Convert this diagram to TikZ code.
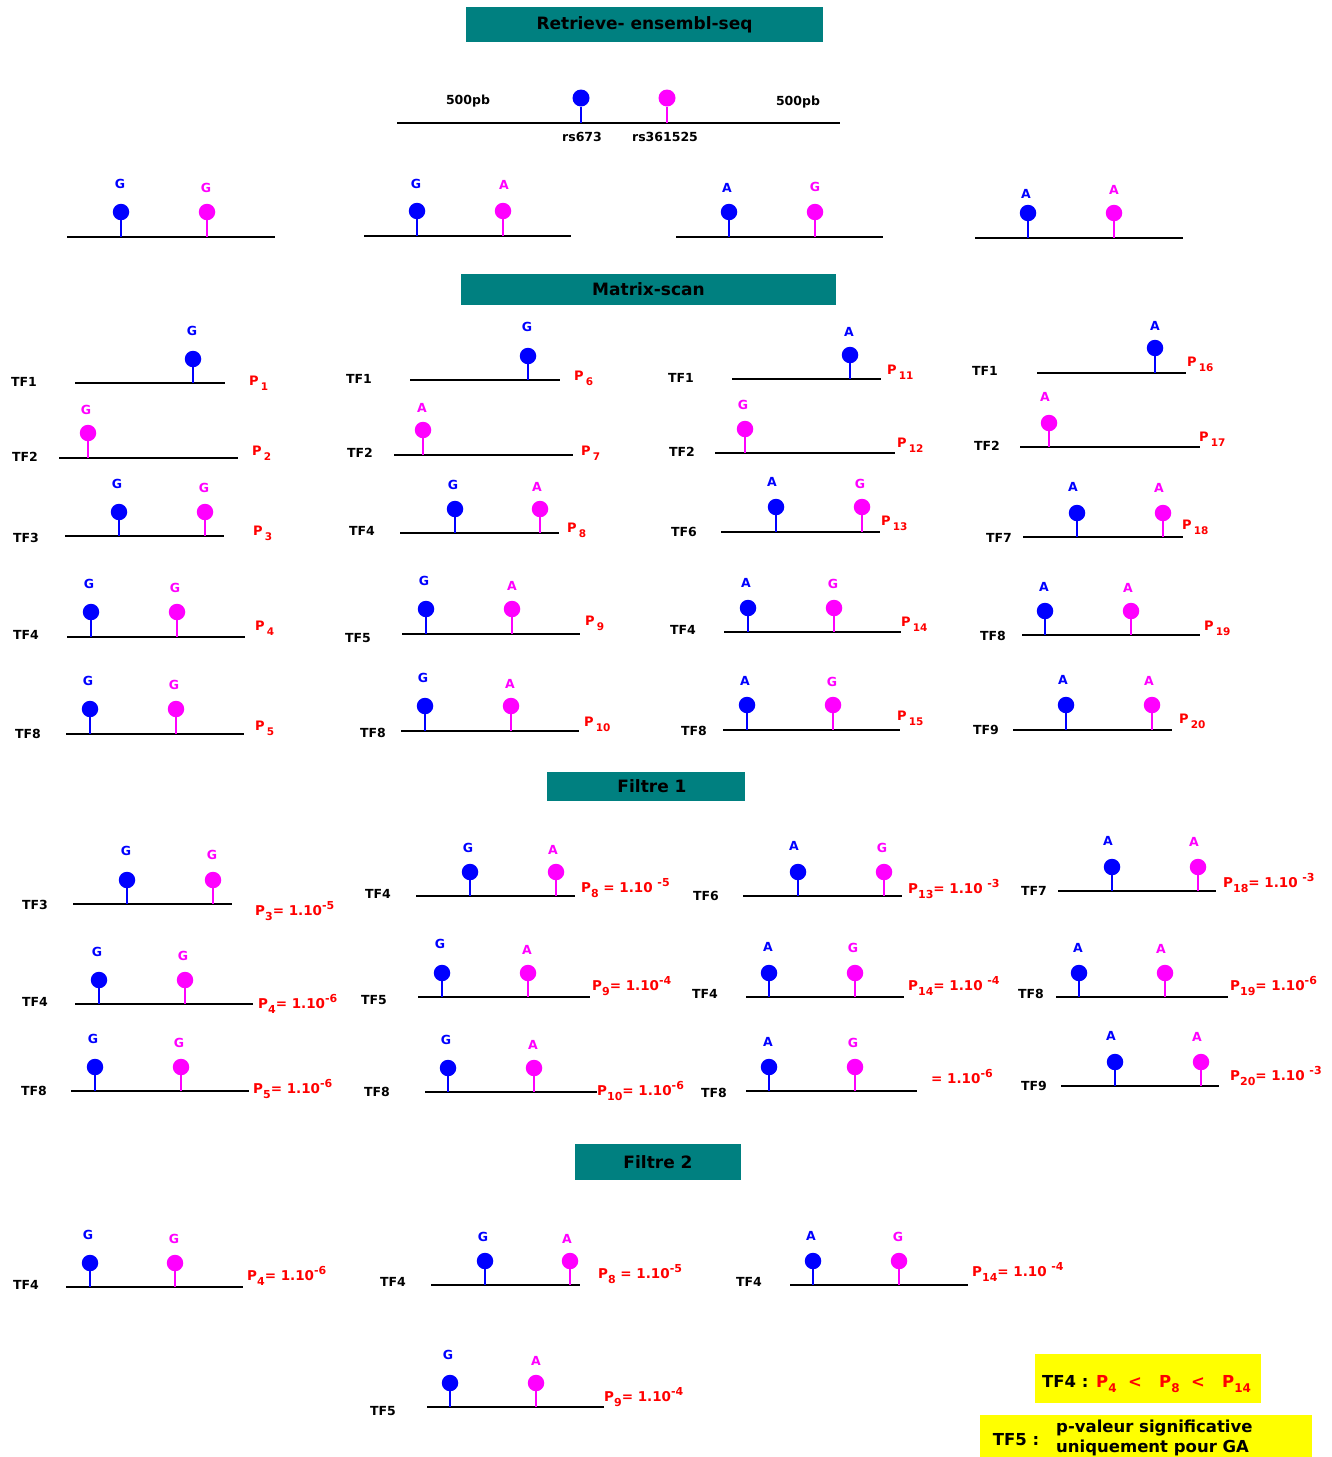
\documentclass[tikz,border=0pt]{standalone}
\usepackage{fontspec}
\setmainfont{DejaVu Sans}
\definecolor{snpb}{HTML}{0000FF}
\definecolor{snpm}{HTML}{FF00FF}
\definecolor{pred}{HTML}{FF0000}
\definecolor{hteal}{HTML}{008080}
\definecolor{ybox}{HTML}{FFFF00}
\tikzset{
 seq/.style={line width=2pt,black},
 stick/.style={line width=1.8pt},
 dot/.style={circle,minimum size=16.5pt,inner sep=0pt,draw=none},
 lt/.style={font=\bfseries\fontsize{12.5}{12.5}\selectfont,inner sep=0pt,text height=9pt,text depth=0pt},
 tf/.style={font=\bfseries\fontsize{12.5}{12.5}\selectfont,inner sep=0pt,text height=9pt,text depth=0pt},
 pl/.style={font=\bfseries\fontsize{13}{13}\selectfont,text=pred,inner sep=0pt,anchor=west,text height=9.5pt,text depth=0pt},
 pv/.style={font=\bfseries\fontsize{13.5}{13.5}\selectfont,text=pred,inner sep=0pt,anchor=west,text height=10pt,text depth=0pt},
 hdr/.style={fill=hteal,inner sep=0pt,font=\bfseries\fontsize{17}{17}\selectfont},
}
\newcommand\seqln[4]{%
 \coordinate (#1a) at (#2,#4); \coordinate (#1b) at (#3,#4);
 \draw[seq] (#1a) -- (#1b);}
\newcommand\snp[8]{%
 \coordinate (#1s) at (#2,#3);
 \node[dot,fill=#5] (#1) at (#2,#4) {};
 \draw[stick,#5] (#1s) -- (#1);
 \node[lt,text=#5] (#1t) at (#7,#8) {#6};}
\newcommand\Psub[1]{P\,\raisebox{-5pt}{\fontsize{10.5}{10.5}\selectfont #1}}
\newcommand\Pfull[3]{P\raisebox{-5pt}{\fontsize{11}{11}\selectfont #1}#2\raisebox{6pt}{\fontsize{11}{11}\selectfont #3}}
\newcommand\Sbx[1]{\raisebox{-4.5pt}{\fontsize{12}{12}\selectfont #1}}
\begin{document}
\begin{tikzpicture}[x=1pt,y=-1pt]
\useasboundingbox (0,0) rectangle (1332,1457);
\fill[white] (0,0) rectangle (1332,1457);
% headers
\node[hdr,minimum width=357pt,minimum height=35pt] (hRet) at (644.5,24.5) {Retrieve- ensembl-seq};
\node[hdr,minimum width=375pt,minimum height=31pt] (hMat) at (648.5,289.5) {Matrix-scan};
\node[hdr,minimum width=198pt,minimum height=29pt] (hFa) at (646,786.5) {\hspace*{12pt}Filtre 1};
\node[hdr,minimum width=166pt,minimum height=36pt] (hFb) at (658,1162) {Filtre 2};
% reference sequence
\seqln{ref}{397}{840}{123}
\node[dot,fill=snpb,minimum size=17pt] (rsA) at (581,98) {};
\coordinate (rsAs) at (581,123); \draw[stick,snpb] (rsAs) -- (rsA);
\node[dot,fill=snpm,minimum size=17pt] (rsB) at (667,98) {};
\coordinate (rsBs) at (667,123); \draw[stick,snpm] (rsBs) -- (rsB);
\node[tf] (pbA) at (468,100) {500pb};
\node[tf] (pbB) at (798,101) {500pb};
\node[tf] (rsAl) at (582,137) {rs673};
\node[tf] (rsBl) at (665,137) {rs361525};
% haplotypes
\seqln{h1}{67}{275}{237}
\snp{h1b}{121}{237}{212}{snpb}{G}{120}{184}
\snp{h1m}{207}{237}{212}{snpm}{G}{206}{188}
\seqln{h2}{364}{571}{236}
\snp{h2b}{417}{236}{211}{snpb}{G}{416}{184}
\snp{h2m}{503}{236}{211}{snpm}{A}{504}{185}
\seqln{h3}{676}{883}{237}
\snp{h3b}{729}{237}{212}{snpb}{A}{727}{188}
\snp{h3m}{815}{237}{212}{snpm}{G}{815}{187}
\seqln{h4}{975}{1183}{238}
\snp{h4b}{1028}{238}{213}{snpb}{A}{1026}{194}
\snp{h4m}{1114}{238}{213}{snpm}{A}{1114}{190}
% ---------- Matrix-scan ----------
% column 1
\node[tf] (m1tf) at (24,382) {TF1};
\seqln{m1}{75}{225}{383}
\snp{m1b}{193}{383}{359}{snpb}{G}{192}{331}
\node[pl] (m1p) at (249,381) {\Psub{1}};
\node[tf] (m2tf) at (25,457) {TF2};
\seqln{m2}{59}{238}{458}
\snp{m2m}{88}{458}{433}{snpm}{G}{86}{410}
\node[pl] (m2p) at (252,451) {\Psub{2}};
\node[tf] (m3tf) at (26,538) {TF3};
\seqln{m3}{65}{224}{536}
\snp{m3b}{119}{536}{512}{snpb}{G}{117}{484}
\snp{m3m}{205}{536}{512}{snpm}{G}{204}{488}
\node[pl] (m3p) at (253,531) {\Psub{3}};
\node[tf] (m4tf) at (26,635) {TF4};
\seqln{m4}{67}{245}{637}
\snp{m4b}{91}{637}{612}{snpb}{G}{89}{584}
\snp{m4m}{177}{637}{612}{snpm}{G}{175}{588}
\node[pl] (m4p) at (255,626) {\Psub{4}};
\node[tf] (m5tf) at (28,734) {TF8};
\seqln{m5}{66}{244}{734}
\snp{m5b}{90}{734}{709}{snpb}{G}{88}{681}
\snp{m5m}{176}{734}{709}{snpm}{G}{174}{685}
\node[pl] (m5p) at (255,726) {\Psub{5}};
% column 2
\node[tf] (m6tf) at (359,379) {TF1};
\seqln{m6}{410}{560}{380}
\snp{m6b}{528}{380}{356}{snpb}{G}{527}{327}
\node[pl] (m6p) at (574,376) {\Psub{6}};
\node[tf] (m7tf) at (360,453) {TF2};
\seqln{m7}{394}{573}{455}
\snp{m7m}{423}{455}{430}{snpm}{A}{422}{408}
\node[pl] (m7p) at (581,451) {\Psub{7}};
\node[tf] (m8tf) at (362,531) {TF4};
\seqln{m8}{400}{559}{533}
\snp{m8b}{455}{533}{509}{snpb}{G}{453}{485}
\snp{m8m}{540}{533}{509}{snpm}{A}{537}{487}
\node[pl] (m8p) at (567,528) {\Psub{8}};
\node[tf] (m9tf) at (358,638) {TF5};
\seqln{m9}{402}{580}{634}
\snp{m9b}{426}{634}{609}{snpb}{G}{424}{581}
\snp{m9m}{512}{634}{609}{snpm}{A}{512}{586}
\node[pl] (m9p) at (585,621) {\Psub{9}};
\node[tf] (m10tf) at (373,733) {TF8};
\seqln{m10}{401}{579}{731}
\snp{m10b}{425}{731}{706}{snpb}{G}{423}{678}
\snp{m10m}{511}{731}{706}{snpm}{A}{510}{684}
\node[pl] (m10p) at (584,722) {\Psub{10}};
% column 3
\node[tf] (m11tf) at (681,378) {TF1};
\seqln{m11}{732}{881}{379}
\snp{m11b}{850}{379}{355}{snpb}{A}{849}{332}
\node[pl] (m11p) at (887,370) {\Psub{11}};
\node[tf] (m12tf) at (682,452) {TF2};
\seqln{m12}{715}{895}{453}
\snp{m12m}{745}{453}{429}{snpm}{G}{743}{405}
\node[pl] (m12p) at (897,443) {\Psub{12}};
\node[tf] (m13tf) at (684,532) {TF6};
\seqln{m13}{721}{880}{532}
\snp{m13b}{776}{532}{507}{snpb}{A}{772}{482}
\snp{m13m}{862}{532}{507}{snpm}{G}{860}{484}
\node[pl] (m13p) at (881,521) {\Psub{13}};
\node[tf] (m14tf) at (683,630) {TF4};
\seqln{m14}{724}{901}{632}
\snp{m14b}{748}{632}{608}{snpb}{A}{746}{583}
\snp{m14m}{834}{632}{608}{snpm}{G}{833}{584}
\node[pl] (m14p) at (901,622) {\Psub{14}};
\node[tf] (m15tf) at (694,731) {TF8};
\seqln{m15}{723}{900}{730}
\snp{m15b}{747}{730}{705}{snpb}{A}{745}{681}
\snp{m15m}{833}{730}{705}{snpm}{G}{832}{682}
\node[pl] (m15p) at (897,716) {\Psub{15}};
% column 4
\node[tf] (m16tf) at (985,371) {TF1};
\seqln{m16}{1037}{1186}{373}
\snp{m16b}{1155}{373}{348}{snpb}{A}{1155}{326}
\node[pl] (m16p) at (1187,362) {\Psub{16}};
\node[tf] (m17tf) at (987,446) {TF2};
\seqln{m17}{1020}{1200}{447}
\snp{m17m}{1049}{447}{423}{snpm}{A}{1045}{397}
\node[pl] (m17p) at (1199,437) {\Psub{17}};
\node[tf] (m18tf) at (999,538) {TF7};
\seqln{m18}{1023}{1183}{537}
\snp{m18b}{1077}{537}{513}{snpb}{A}{1073}{487}
\snp{m18m}{1163}{537}{513}{snpm}{A}{1159}{488}
\node[pl] (m18p) at (1182,525) {\Psub{18}};
\node[tf] (m19tf) at (993,636) {TF8};
\seqln{m19}{1022}{1200}{635}
\snp{m19b}{1045}{635}{611}{snpb}{A}{1044}{587}
\snp{m19m}{1131}{635}{611}{snpm}{A}{1128}{588}
\node[pl] (m19p) at (1204,626) {\Psub{19}};
\node[tf] (m20tf) at (986,730) {TF9};
\seqln{m20}{1013}{1172}{730}
\snp{m20b}{1066}{730}{705}{snpb}{A}{1063}{680}
\snp{m20m}{1152}{730}{705}{snpm}{A}{1149}{681}
\node[pl] (m20p) at (1179,719) {\Psub{20}};
% ---------- Filtre 1 ----------
\node[tf] (f3tf) at (35,905) {TF3};
\seqln{f3}{73}{232}{904}
\snp{f3b}{127}{904}{880}{snpb}{G}{126}{851}
\snp{f3m}{213}{904}{880}{snpm}{G}{212}{855}
\node[pv] (f3p) at (255,910) {\Pfull{3}{= 1.10}{-5}};
\node[tf] (f4tf) at (35,1002) {TF4};
\seqln{f4}{75}{253}{1004}
\snp{f4b}{99}{1004}{980}{snpb}{G}{97}{952}
\snp{f4m}{185}{1004}{980}{snpm}{G}{183}{956}
\node[pv] (f4p) at (258,1003) {\Pfull{4}{= 1.10}{-6}};
\node[tf] (f5tf) at (34,1091) {TF8};
\seqln{f5}{71}{249}{1091}
\snp{f5b}{95}{1091}{1067}{snpb}{G}{93}{1039}
\snp{f5m}{181}{1091}{1067}{snpm}{G}{179}{1043}
\node[pv] (f5p) at (253,1088) {\Pfull{5}{= 1.10}{-6}};
\node[tf] (f8tf) at (378,894) {TF4};
\seqln{f8}{416}{575}{896}
\snp{f8b}{470}{896}{872}{snpb}{G}{468}{848}
\snp{f8m}{556}{896}{872}{snpm}{A}{553}{850}
\node[pv] (f8p) at (581,887) {\Pfull{8}{\ = 1.10\ }{-5}};
\node[tf] (f9tf) at (374,1000) {TF5};
\seqln{f9}{418}{590}{997}
\snp{f9b}{442}{997}{973}{snpb}{G}{440}{944}
\snp{f9m}{528}{997}{973}{snpm}{A}{527}{950}
\node[pv] (f9p) at (592,985) {\Pfull{9}{= 1.10}{-4}};
\node[tf] (f10tf) at (377,1092) {TF8};
\seqln{f10}{425}{597}{1092}
\snp{f10b}{448}{1092}{1068}{snpb}{G}{446}{1040}
\snp{f10m}{534}{1092}{1068}{snpm}{A}{533}{1045}
\node[pv] (f10p) at (597,1090) {\Pfull{10}{= 1.10}{-6}};
\node[tf] (f13tf) at (706,896) {TF6};
\seqln{f13}{743}{902}{896}
\snp{f13b}{798}{896}{872}{snpb}{A}{794}{846}
\snp{f13m}{884}{896}{872}{snpm}{G}{882}{848}
\node[pv] (f13p) at (908,888) {\Pfull{13}{= 1.10\ }{-3}};
\node[tf] (f14tf) at (705,994) {TF4};
\seqln{f14}{746}{904}{997}
\snp{f14b}{769}{997}{973}{snpb}{A}{768}{947}
\snp{f14m}{855}{997}{973}{snpm}{G}{853}{948}
\node[pv] (f14p) at (908,985) {\Pfull{14}{= 1.10\ }{-4}};
\node[tf] (f15tf) at (714,1093) {TF8};
\seqln{f15}{746}{917}{1091}
\snp{f15b}{769}{1091}{1067}{snpb}{A}{768}{1042}
\snp{f15m}{855}{1091}{1067}{snpm}{G}{853}{1043}
\node[pv] (f15p) at (931,1078) {= 1.10\raisebox{6pt}{\fontsize{11}{11}\selectfont -6}};
\node[tf] (f18tf) at (1034,891) {TF7};
\seqln{f18}{1058}{1216}{891}
\snp{f18b}{1112}{891}{867}{snpb}{A}{1108}{841}
\snp{f18m}{1198}{891}{867}{snpm}{A}{1194}{842}
\node[pv] (f18p) at (1223,882) {\Pfull{18}{= 1.10\ }{-3}};
\node[tf] (f19tf) at (1031,994) {TF8};
\seqln{f19}{1056}{1228}{997}
\snp{f19b}{1079}{997}{973}{snpb}{A}{1078}{948}
\snp{f19m}{1165}{997}{973}{snpm}{A}{1161}{949}
\node[pv] (f19p) at (1230,985) {\Pfull{19}{= 1.10}{-6}};
\node[tf] (f20tf) at (1034,1086) {TF9};
\seqln{f20}{1061}{1219}{1086}
\snp{f20b}{1115}{1086}{1062}{snpb}{A}{1111}{1036}
\snp{f20m}{1201}{1086}{1062}{snpm}{A}{1197}{1037}
\node[pv] (f20p) at (1230,1075) {\Pfull{20}{= 1.10\ }{-3}};
% ---------- Filtre 2 ----------
\node[tf] (g4tf) at (26,1285) {TF4};
\seqln{g4}{66}{243}{1287}
\snp{g4b}{90}{1287}{1263}{snpb}{G}{88}{1235}
\snp{g4m}{175}{1287}{1263}{snpm}{G}{174}{1239}
\node[pv] (g4p) at (247,1275) {\Pfull{4}{= 1.10}{-6}};
\node[tf] (g8tf) at (393,1282) {TF4};
\seqln{g8}{431}{580}{1285}
\snp{g8b}{485}{1285}{1261}{snpb}{G}{483}{1237}
\snp{g8m}{570}{1285}{1261}{snpm}{A}{567}{1239}
\node[pv] (g8p) at (598,1273) {\Pfull{8}{\ = 1.10}{-5}};
\node[tf] (g14tf) at (749,1282) {TF4};
\seqln{g14}{790}{968}{1285}
\snp{g14b}{813}{1285}{1261}{snpb}{A}{811}{1236}
\snp{g14m}{899}{1285}{1261}{snpm}{G}{898}{1237}
\node[pv] (g14p) at (972,1271) {\Pfull{14}{= 1.10\ }{-4}};
\node[tf] (g9tf) at (383,1411) {TF5};
\seqln{g9}{427}{604}{1407}
\snp{g9b}{450}{1407}{1383}{snpb}{G}{448}{1355}
\snp{g9m}{536}{1407}{1383}{snpm}{A}{536}{1361}
\node[pv] (g9p) at (604,1396) {\Pfull{9}{= 1.10}{-4}};
% ---------- summary boxes ----------
\node[fill=ybox,minimum width=226pt,minimum height=49pt,inner sep=0pt] (yba) at (1148,1378.5) {};
\node[font=\bfseries\fontsize{16.5}{16.5}\selectfont,anchor=west,inner sep=0pt] (ybat) at (1042,1384)
 {TF4 : \textcolor{pred}{P\Sbx{4}\ \ <\ \ \ P\Sbx{8}\ \ <\ \ \ P\Sbx{14}}};
\node[fill=ybox,minimum width=332pt,minimum height=42pt,inner sep=0pt] (ybb) at (1146,1436) {};
\node[font=\bfseries\fontsize{16.5}{16.5}\selectfont,inner sep=0pt] (ybbt) at (1016,1440) {TF5 :};
\node[font=\bfseries\fontsize{16.5}{20}\selectfont,anchor=west,align=left,inner sep=0pt] (ybbs) at (1056,1438)
 {p-valeur significative\\uniquement pour GA};
\end{tikzpicture}
\end{document}
